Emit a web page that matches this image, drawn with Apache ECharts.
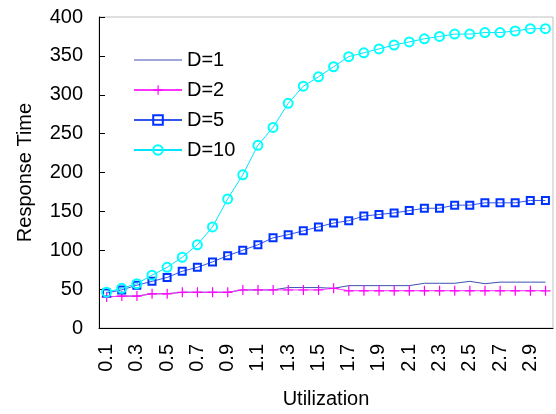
<!DOCTYPE html>
<html>
<head>
<meta charset="utf-8">
<script src="https://cdn.jsdelivr.net/npm/echarts@6/dist/echarts.min.js"></script>
<style>
html,body{margin:0;padding:0;background:#fff;}
#chart{width:556px;height:414px;}
</style>
</head>
<body>
<div id="chart"></div>
<script>
const categories = ['0.1','0.2','0.3','0.4','0.5','0.6','0.7','0.8','0.9','1.0','1.1','1.2','1.3','1.4','1.5','1.6','1.7','1.8','1.9','2.0','2.1','2.2','2.3','2.4','2.5','2.6','2.7','2.8','2.9','3.0'];
const d1 = [40,41,41,44,44,46,46,46,46,49,49,49,52,52,52,51,54.5,54.5,54.5,54.5,54.5,57.5,57.5,57.5,60,57,59,59,59,59];
const d2 = [40,41,41,44,44,46,46,46,46,49,49,49,49,49,49,51,48,48,48,48,48,48,48,48,48,48,48,48,48,48];
const d5 = [45,49,55,60,65,73,78,85,93,100,107,116,120,125,130,135,138,144,146,148,151,154,154,158,158,161,161,161,164,164];
const d10 = [46,51,57,68,78,91,107,130,166,197,235,258,289,311,323,336,349,354,359,364,368,372,375,378,378,380,380,382,385,385];
const yTicks = {min:0, max:400, interval:50};
const seriesNames = ['D=1','D=2','D=5','D=10'];

const FONT = '"Liberation Sans", Arial, sans-serif';
const plus = 'path://M0,45 L100,45 L100,57 L0,57 Z M45,0 L57,0 L57,100 L45,100 Z';
const lineIcon = 'path://M0,0 L100,0 L100,2.5 L0,2.5 Z';

const chart = echarts.init(document.getElementById('chart'), null, {renderer:'canvas'});
chart.setOption({
  animation:false,
  backgroundColor:'#fff',
  textStyle:{fontFamily:FONT},
  grid:{left:99, right:3, top:17, bottom:84, show:true, borderColor:'#c0c0c0', borderWidth:1, backgroundColor:'transparent'},
  legend:{
    orient:'vertical', left:128, top:45, itemWidth:48, itemHeight:12, itemGap:10,
    textStyle:{fontFamily:FONT, fontSize:20, color:'#000'},
    data:[{name:seriesNames[0], icon:lineIcon}, seriesNames[1], seriesNames[2], seriesNames[3]]
  },
  xAxis:{
    type:'category', data:categories, boundaryGap:true,
    name:'Utilization', nameLocation:'middle', nameGap:61,
    nameTextStyle:{fontFamily:FONT, fontSize:20, color:'#000'},
    axisLine:{lineStyle:{color:'#000', width:1}},
    axisTick:{inside:true, length:5, interval:0, lineStyle:{color:'#000'}},
    axisLabel:{interval:1, rotate:90, fontFamily:FONT, fontSize:20, color:'#000', margin:16},
    splitLine:{show:false}
  },
  yAxis:{
    type:'value', min:yTicks.min, max:yTicks.max, interval:yTicks.interval,
    name:'Response Time', nameLocation:'middle', nameGap:64, nameRotate:90,
    nameTextStyle:{fontFamily:FONT, fontSize:20, color:'#000'},
    axisLine:{show:true, lineStyle:{color:'#000', width:1}},
    axisTick:{show:true, inside:true, length:6, lineStyle:{color:'#000'}},
    axisLabel:{fontFamily:FONT, fontSize:20, color:'#000', margin:16},
    splitLine:{show:false}
  },
  series:[
    {name:seriesNames[0], type:'line', data:d1, showSymbol:false, symbol:'none',
     lineStyle:{color:'#3d4fb0', width:1}, itemStyle:{color:'#3d4fb0'}, z:2},
    {name:seriesNames[1], type:'line', data:d2, symbol:plus, symbolSize:10, showAllSymbol:true,
     lineStyle:{color:'#ff33ff', width:1}, itemStyle:{color:'#ff00ff'}, z:3},
    {name:seriesNames[2], type:'line', data:d5, symbol:'rect', symbolSize:7, showAllSymbol:true,
     lineStyle:{color:'#3355ee', width:1}, itemStyle:{color:'rgba(0,0,0,0)', borderColor:'#0033ff', borderWidth:2}, z:4},
    {name:seriesNames[3], type:'line', data:d10, symbol:'circle', symbolSize:9, showAllSymbol:true,
     lineStyle:{color:'#00e5ff', width:1}, itemStyle:{color:'rgba(0,0,0,0)', borderColor:'#00ffff', borderWidth:2}, z:5}
  ]
});
</script>
</body>
</html>
